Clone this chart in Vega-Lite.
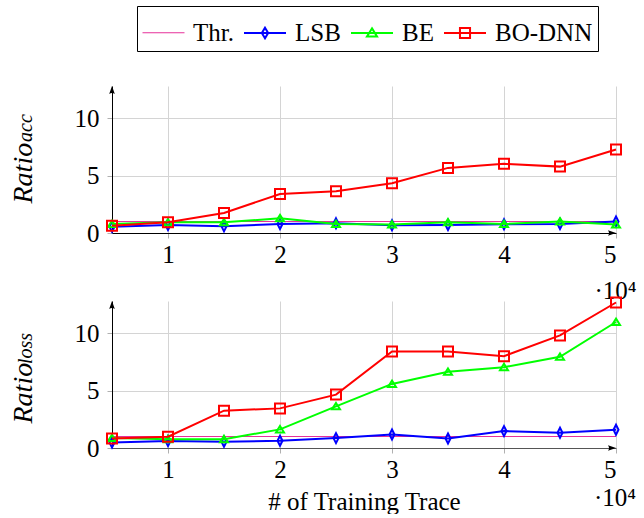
{
  "$schema": "https://vega.github.io/schema/vega-lite/v6.json",
  "background": "white",
  "padding": {"left": 9, "top": 5, "right": 4, "bottom": 0},
  "datasets": {
    "acc": [
      {"series": "Thr.", "traces": 5000, "ratio": 1.0},
      {"series": "Thr.", "traces": 10000, "ratio": 1.0},
      {"series": "Thr.", "traces": 15000, "ratio": 1.0},
      {"series": "Thr.", "traces": 20000, "ratio": 1.0},
      {"series": "Thr.", "traces": 25000, "ratio": 1.0},
      {"series": "Thr.", "traces": 30000, "ratio": 1.0},
      {"series": "Thr.", "traces": 35000, "ratio": 1.0},
      {"series": "Thr.", "traces": 40000, "ratio": 1.0},
      {"series": "Thr.", "traces": 45000, "ratio": 1.0},
      {"series": "Thr.", "traces": 50000, "ratio": 1.0},
      {"series": "LSB", "traces": 5000, "ratio": 0.55},
      {"series": "LSB", "traces": 10000, "ratio": 0.7},
      {"series": "LSB", "traces": 15000, "ratio": 0.58},
      {"series": "LSB", "traces": 20000, "ratio": 0.78},
      {"series": "LSB", "traces": 25000, "ratio": 0.84},
      {"series": "LSB", "traces": 30000, "ratio": 0.67},
      {"series": "LSB", "traces": 35000, "ratio": 0.7},
      {"series": "LSB", "traces": 40000, "ratio": 0.76},
      {"series": "LSB", "traces": 45000, "ratio": 0.78},
      {"series": "LSB", "traces": 50000, "ratio": 1.0},
      {"series": "BE", "traces": 5000, "ratio": 0.78},
      {"series": "BE", "traces": 10000, "ratio": 0.93},
      {"series": "BE", "traces": 15000, "ratio": 0.93},
      {"series": "BE", "traces": 20000, "ratio": 1.28},
      {"series": "BE", "traces": 25000, "ratio": 0.78},
      {"series": "BE", "traces": 30000, "ratio": 0.73},
      {"series": "BE", "traces": 35000, "ratio": 0.93},
      {"series": "BE", "traces": 40000, "ratio": 0.78},
      {"series": "BE", "traces": 45000, "ratio": 1.0},
      {"series": "BE", "traces": 50000, "ratio": 0.73},
      {"series": "BO-DNN", "traces": 5000, "ratio": 0.64},
      {"series": "BO-DNN", "traces": 10000, "ratio": 0.93},
      {"series": "BO-DNN", "traces": 15000, "ratio": 1.74},
      {"series": "BO-DNN", "traces": 20000, "ratio": 3.4},
      {"series": "BO-DNN", "traces": 25000, "ratio": 3.63},
      {"series": "BO-DNN", "traces": 30000, "ratio": 4.33},
      {"series": "BO-DNN", "traces": 35000, "ratio": 5.67},
      {"series": "BO-DNN", "traces": 40000, "ratio": 6.02},
      {"series": "BO-DNN", "traces": 45000, "ratio": 5.78},
      {"series": "BO-DNN", "traces": 50000, "ratio": 7.27}
    ],
    "loss": [
      {"series": "Thr.", "traces": 5000, "ratio": 1.0},
      {"series": "Thr.", "traces": 10000, "ratio": 1.0},
      {"series": "Thr.", "traces": 15000, "ratio": 1.0},
      {"series": "Thr.", "traces": 20000, "ratio": 1.0},
      {"series": "Thr.", "traces": 25000, "ratio": 1.0},
      {"series": "Thr.", "traces": 30000, "ratio": 1.0},
      {"series": "Thr.", "traces": 35000, "ratio": 1.0},
      {"series": "Thr.", "traces": 40000, "ratio": 1.0},
      {"series": "Thr.", "traces": 45000, "ratio": 1.0},
      {"series": "Thr.", "traces": 50000, "ratio": 1.0},
      {"series": "LSB", "traces": 5000, "ratio": 0.48},
      {"series": "LSB", "traces": 10000, "ratio": 0.6},
      {"series": "LSB", "traces": 15000, "ratio": 0.54},
      {"series": "LSB", "traces": 20000, "ratio": 0.63},
      {"series": "LSB", "traces": 25000, "ratio": 0.86},
      {"series": "LSB", "traces": 30000, "ratio": 1.18},
      {"series": "LSB", "traces": 35000, "ratio": 0.83},
      {"series": "LSB", "traces": 40000, "ratio": 1.47},
      {"series": "LSB", "traces": 45000, "ratio": 1.33},
      {"series": "LSB", "traces": 50000, "ratio": 1.59},
      {"series": "BE", "traces": 5000, "ratio": 0.86},
      {"series": "BE", "traces": 10000, "ratio": 0.77},
      {"series": "BE", "traces": 15000, "ratio": 0.77},
      {"series": "BE", "traces": 20000, "ratio": 1.62},
      {"series": "BE", "traces": 25000, "ratio": 3.63},
      {"series": "BE", "traces": 30000, "ratio": 5.58},
      {"series": "BE", "traces": 35000, "ratio": 6.63},
      {"series": "BE", "traces": 40000, "ratio": 7.04},
      {"series": "BE", "traces": 45000, "ratio": 7.94},
      {"series": "BE", "traces": 50000, "ratio": 10.97},
      {"series": "BO-DNN", "traces": 5000, "ratio": 0.83},
      {"series": "BO-DNN", "traces": 10000, "ratio": 0.98},
      {"series": "BO-DNN", "traces": 15000, "ratio": 3.25},
      {"series": "BO-DNN", "traces": 20000, "ratio": 3.45},
      {"series": "BO-DNN", "traces": 25000, "ratio": 4.65},
      {"series": "BO-DNN", "traces": 30000, "ratio": 8.4},
      {"series": "BO-DNN", "traces": 35000, "ratio": 8.4},
      {"series": "BO-DNN", "traces": 40000, "ratio": 8.0},
      {"series": "BO-DNN", "traces": 45000, "ratio": 9.8},
      {"series": "BO-DNN", "traces": 50000, "ratio": 12.67}
    ],
    "axisEnds": [
      {"end": "x", "traces": 50000, "ratio": 0},
      {"end": "y", "traces": 5000, "ratio": 12.8}
    ]
  },
  "title": {
    "text": "·10⁴",
    "orient": "bottom",
    "anchor": "end",
    "frame": "bounds",
    "offset": -28,
    "font": "Times New Roman, Liberation Serif, serif",
    "fontSize": 25,
    "fontWeight": "normal",
    "color": "#000"
  },
  "bounds": "flush",
  "spacing": 68,
  "vconcat": [
    {
      "width": 504,
      "height": 147,
      "data": {"name": "acc"},
      "title": {
        "text": "acc",
        "orient": "left",
        "anchor": "start",
        "frame": "group",
        "offset": 0,
        "dx": 91,
        "dy": 27,
        "font": "Times New Roman, Liberation Serif, serif",
        "fontStyle": "italic",
        "fontWeight": "normal",
        "fontSize": 20,
        "color": "#000"
      },
      "encoding": {
        "x": {
          "field": "traces",
          "type": "quantitative",
          "scale": {"domain": [5000, 50000], "nice": false, "zero": false},
          "axis": {
            "values": [10000, 20000, 30000, 40000, 50000],
            "labelExpr": "format(datum.value / 10000, 'd')",
            "title": "·10⁴",
            "titleX": 524,
            "titleY": 65,
            "titleAlign": "right",
            "titleBaseline": "alphabetic",
            "titleAnchor": null
          }
        },
        "y": {
          "field": "ratio",
          "type": "quantitative",
          "scale": {"domain": [0, 12.8], "nice": false},
          "axis": {
            "values": [0, 5, 10],
            "title": "Ratio",
            "titleFontStyle": "italic",
            "titleFontSize": 28,
            "titleAngle": -90,
            "titleX": -81,
            "titleY": 117,
            "titleAlign": "left",
            "titleBaseline": "alphabetic",
            "titleAnchor": null
          }
        }
      },
      "layer": [
        {
          "transform": [{"filter": "datum.series == 'Thr.'"}],
          "mark": {"type": "line", "color": "#e6309a", "strokeWidth": 1.2}
        },
        {
          "transform": [{"filter": "datum.series == 'LSB'"}],
          "mark": {"type": "line", "color": "#0000ff", "strokeWidth": 2,
            "point": {"shape": "M0,-1L0.5,0L0,1L-0.5,0Z", "filled": false, "size": 100, "strokeWidth": 2, "color": "#0000ff", "opacity": 1}}
        },
        {
          "transform": [{"filter": "datum.series == 'BE'"}],
          "mark": {"type": "line", "color": "#00ff00", "strokeWidth": 2,
            "point": {"shape": "M0,-0.85L1,0.75L-1,0.75Z", "filled": false, "size": 64, "strokeWidth": 2, "color": "#00ff00", "opacity": 1}}
        },
        {
          "transform": [{"filter": "datum.series == 'BO-DNN'"}],
          "mark": {"type": "line", "color": "#ff0000", "strokeWidth": 2,
            "point": {"shape": "square", "filled": false, "size": 100, "strokeWidth": 2, "color": "#ff0000", "opacity": 1}}
        },
        {
          "data": {"name": "axisEnds"},
          "transform": [{"filter": "datum.end == 'x'"}],
          "mark": {"type": "point", "shape": "M0,0L-2,-0.7Q-1.5,0 -2,0.7Z", "filled": true, "color": "#000", "size": 64, "opacity": 1}
        },
        {
          "data": {"name": "axisEnds"},
          "transform": [{"filter": "datum.end == 'y'"}],
          "mark": {"type": "point", "shape": "M0,0L0.7,2Q0,1.5 -0.7,2Z", "filled": true, "color": "#000", "size": 64, "opacity": 1}
        },
        {
          "transform": [{"filter": "datum.ratio < 0"}],
          "mark": {"type": "point", "filled": false, "size": 1764, "opacity": 1},
          "encoding": {
            "color": {
              "field": "series",
              "type": "nominal",
              "scale": {"domain": ["Thr.", "LSB", "BE", "BO-DNN"], "range": ["#e6309a", "#0000ff", "#00ff00", "#ff0000"]},
              "legend": {"orient": "none", "legendX": 25, "legendY": -80, "direction": "horizontal", "title": null}
            },
            "shape": {
              "field": "series",
              "type": "nominal",
              "scale": {
                "domain": ["Thr.", "LSB", "BE", "BO-DNN"],
                "range": [
                  "M-1,0L1,0",
                  "M-1,0L1,0M0,-0.25L0.15,0L0,0.25L-0.15,0Z",
                  "M-1,0L1,0M0,-0.22L0.24,0.17L-0.24,0.17Z",
                  "M-1,0L1,0M-0.24,-0.24L0.24,-0.24L0.24,0.24L-0.24,0.24Z"
                ]
              },
              "legend": {"orient": "none", "legendX": 25, "legendY": -80, "direction": "horizontal", "title": null}
            },
            "strokeWidth": {
              "field": "series",
              "type": "nominal",
              "scale": {"type": "ordinal", "domain": ["Thr.", "LSB", "BE", "BO-DNN"], "range": [1, 2, 2, 2]},
              "legend": {"orient": "none", "legendX": 25, "legendY": -80, "direction": "horizontal", "title": null}
            }
          }
        }
      ]
    },
    {
      "width": 504,
      "height": 147,
      "data": {"name": "loss"},
      "title": {
        "text": "loss",
        "orient": "left",
        "anchor": "start",
        "frame": "group",
        "offset": 0,
        "dx": 84,
        "dy": 27,
        "font": "Times New Roman, Liberation Serif, serif",
        "fontStyle": "italic",
        "fontWeight": "normal",
        "fontSize": 20,
        "color": "#000"
      },
      "encoding": {
        "x": {
          "field": "traces",
          "type": "quantitative",
          "scale": {"domain": [5000, 50000], "nice": false, "zero": false},
          "axis": {
            "values": [10000, 20000, 30000, 40000, 50000],
            "labelExpr": "format(datum.value / 10000, 'd')",
            "title": "# of Training Trace",
            "titleX": 252,
            "titleY": 61,
            "titleAlign": "center",
            "titleBaseline": "alphabetic",
            "titleAnchor": null,
            "domainColor": "#555555"
          }
        },
        "y": {
          "field": "ratio",
          "type": "quantitative",
          "scale": {"domain": [0, 12.8], "nice": false},
          "axis": {
            "values": [0, 5, 10],
            "title": "Ratio",
            "titleFontStyle": "italic",
            "titleFontSize": 28,
            "titleAngle": -90,
            "titleX": -81,
            "titleY": 122,
            "titleAlign": "left",
            "titleBaseline": "alphabetic",
            "titleAnchor": null
          }
        }
      },
      "layer": [
        {
          "transform": [{"filter": "datum.series == 'Thr.'"}],
          "mark": {"type": "line", "color": "#e6309a", "strokeWidth": 1.2}
        },
        {
          "transform": [{"filter": "datum.series == 'LSB'"}],
          "mark": {"type": "line", "color": "#0000ff", "strokeWidth": 2,
            "point": {"shape": "M0,-1L0.5,0L0,1L-0.5,0Z", "filled": false, "size": 100, "strokeWidth": 2, "color": "#0000ff", "opacity": 1}}
        },
        {
          "transform": [{"filter": "datum.series == 'BE'"}],
          "mark": {"type": "line", "color": "#00ff00", "strokeWidth": 2,
            "point": {"shape": "M0,-0.85L1,0.75L-1,0.75Z", "filled": false, "size": 64, "strokeWidth": 2, "color": "#00ff00", "opacity": 1}}
        },
        {
          "transform": [{"filter": "datum.series == 'BO-DNN'"}],
          "mark": {"type": "line", "color": "#ff0000", "strokeWidth": 2,
            "point": {"shape": "square", "filled": false, "size": 100, "strokeWidth": 2, "color": "#ff0000", "opacity": 1}}
        },
        {
          "data": {"name": "axisEnds"},
          "transform": [{"filter": "datum.end == 'x'"}],
          "mark": {"type": "point", "shape": "M0,0L-2,-0.7Q-1.5,0 -2,0.7Z", "filled": true, "color": "#000", "size": 64, "opacity": 1}
        },
        {
          "data": {"name": "axisEnds"},
          "transform": [{"filter": "datum.end == 'y'"}],
          "mark": {"type": "point", "shape": "M0,0L0.7,2Q0,1.5 -0.7,2Z", "filled": true, "color": "#000", "size": 64, "opacity": 1}
        }
      ]
    }
  ],
  "config": {
    "view": {"stroke": null},
    "font": "Times New Roman, Liberation Serif, serif",
    "axis": {
      "labelFont": "Times New Roman, Liberation Serif, serif",
      "labelFontSize": 25,
      "labelColor": "#000",
      "titleFont": "Times New Roman, Liberation Serif, serif",
      "titleFontSize": 25,
      "titleFontWeight": "normal",
      "titleColor": "#000",
      "domainColor": "#000",
      "domainWidth": 1,
      "tickColor": "#b0b0b0",
      "tickSize": 5,
      "gridColor": "#d4d4d4",
      "gridWidth": 1,
      "grid": true
    },
    "axisX": {"labelPadding": 4},
    "axisY": {"labelPadding": 8},
    "legend": {
      "strokeColor": "#000",
      "padding": 5,
      "labelFont": "Times New Roman, Liberation Serif, serif",
      "labelFontSize": 25,
      "labelColor": "#000",
      "labelOffset": 8,
      "columnPadding": 6,
      "labelLimit": 300,
      "cornerRadius": 0,
      "fillColor": "#fff",
      "symbolSize": 1764
    }
  }
}
